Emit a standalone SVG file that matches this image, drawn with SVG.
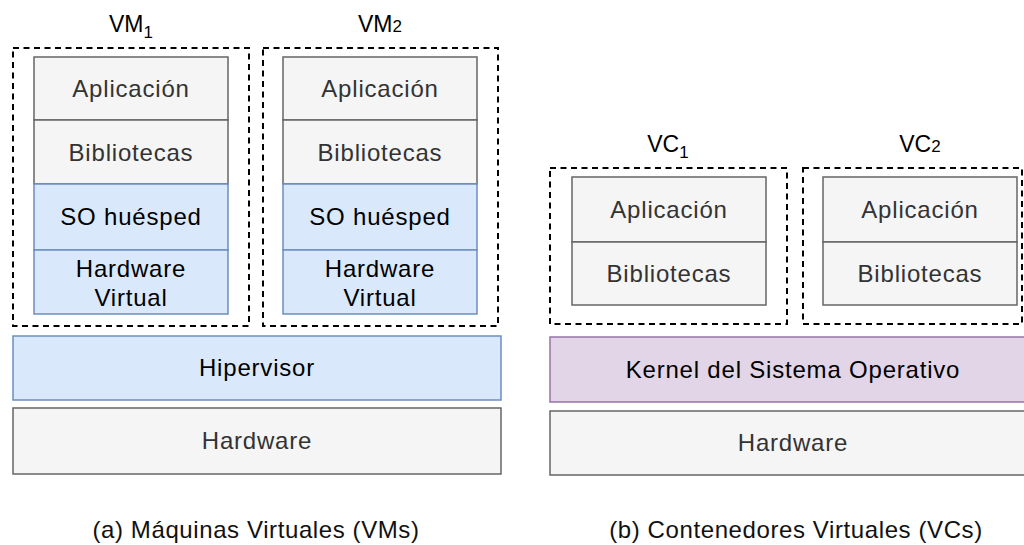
<svg xmlns="http://www.w3.org/2000/svg" width="1024" height="545" viewBox="0 0 1024 545">
  <style>
    text { font-family: "Liberation Sans", Arial, Helvetica, sans-serif; font-size: 24px; letter-spacing: 0.8px; text-anchor: middle; }
    .grey { fill: #f5f5f5; stroke: #666666; stroke-width: 1.5; }
    .blue { fill: #dae8fc; stroke: #6c8ebf; stroke-width: 1.5; }
    .purple { fill: #e1d5e7; stroke: #9673a6; stroke-width: 1.5; }
    .group { fill: none; stroke: #000000; stroke-width: 2; stroke-dasharray: 6 4.5; }
    .tg { fill: #333333; }
    .tb { fill: #000000; }
    .lbl { fill: #000000; font-size: 23px; letter-spacing: 0; }
    .cap { fill: #111111; letter-spacing: 0.6px; }
  </style>
  <rect width="1024" height="545" fill="#ffffff"/>

  <!-- (a) Virtual machines -->
  <g id="vm1">
    <rect class="group" x="13" y="48" width="236" height="278"/>
    <text class="lbl" x="131" y="32"><tspan>VM</tspan><tspan font-size="17" dy="6">1</tspan></text>
    <rect class="grey" x="34" y="57" width="194" height="63"/>
    <text class="tg" x="131" y="97">Aplicación</text>
    <rect class="grey" x="34" y="120" width="194" height="64"/>
    <text class="tg" x="131" y="161">Bibliotecas</text>
    <rect class="blue" x="34" y="184" width="194" height="66"/>
    <text class="tb" x="131" y="225">SO huésped</text>
    <rect class="blue" x="34" y="250" width="194" height="64"/>
    <text class="tb" x="131" y="277">Hardware</text>
    <text class="tb" x="131" y="306">Virtual</text>
  </g>

  <g id="vm2">
    <rect class="group" x="263" y="48" width="235" height="278"/>
    <text class="lbl" x="380" y="32"><tspan>VM</tspan><tspan font-size="17">2</tspan></text>
    <rect class="grey" x="283" y="57" width="194" height="63"/>
    <text class="tg" x="380" y="97">Aplicación</text>
    <rect class="grey" x="283" y="120" width="194" height="64"/>
    <text class="tg" x="380" y="161">Bibliotecas</text>
    <rect class="blue" x="283" y="184" width="194" height="66"/>
    <text class="tb" x="380" y="225">SO huésped</text>
    <rect class="blue" x="283" y="250" width="194" height="64"/>
    <text class="tb" x="380" y="277">Hardware</text>
    <text class="tb" x="380" y="306">Virtual</text>
  </g>

  <g id="hypervisor">
    <rect class="blue" x="13" y="336" width="488" height="64"/>
    <text class="tb" x="257" y="376">Hipervisor</text>
  </g>

  <g id="hardware-a">
    <rect class="grey" x="13" y="408" width="488" height="66"/>
    <text class="tg" x="257" y="449">Hardware</text>
  </g>

  <!-- (b) Virtual containers -->
  <g id="vc1">
    <rect class="group" x="550" y="168" width="237" height="156"/>
    <text class="lbl" x="668" y="152"><tspan>VC</tspan><tspan font-size="17" dy="6">1</tspan></text>
    <rect class="grey" x="572" y="177" width="194" height="65"/>
    <text class="tg" x="669" y="218">Aplicación</text>
    <rect class="grey" x="572" y="242" width="194" height="63"/>
    <text class="tg" x="669" y="282">Bibliotecas</text>
  </g>

  <g id="vc2">
    <rect class="group" x="803" y="168" width="219" height="156"/>
    <text class="lbl" x="920" y="152"><tspan>VC</tspan><tspan font-size="17">2</tspan></text>
    <rect class="grey" x="823" y="177" width="194" height="65"/>
    <text class="tg" x="920" y="218">Aplicación</text>
    <rect class="grey" x="823" y="242" width="194" height="63"/>
    <text class="tg" x="920" y="282">Bibliotecas</text>
  </g>

  <g id="kernel">
    <rect class="purple" x="550" y="337" width="480" height="65"/>
    <text class="tb" x="793" y="378">Kernel del Sistema Operativo</text>
  </g>

  <g id="hardware-b">
    <rect class="grey" x="550" y="411" width="480" height="64"/>
    <text class="tg" x="793" y="451">Hardware</text>
  </g>

  <g id="connectors"></g>

  <!-- captions -->
  <text class="cap" x="256" y="538">(a) Máquinas Virtuales (VMs)</text>
  <text class="cap" x="796" y="538">(b) Contenedores Virtuales (VCs)</text>
</svg>
